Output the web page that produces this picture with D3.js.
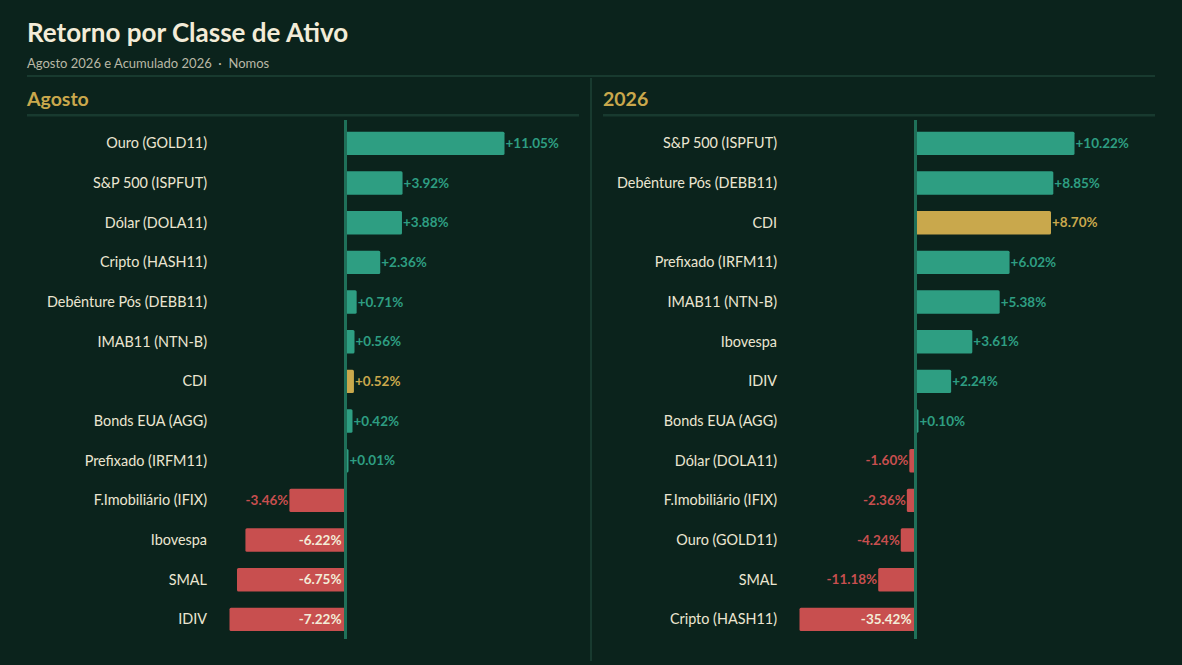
<!DOCTYPE html>
<html>
<head>
<meta charset="utf-8">
<script src="https://cdn.jsdelivr.net/npm/d3@7"></script>
<style>
  html, body { margin: 0; padding: 0; background: #0b231c; }
  svg { display: block; font-family: Lato, "Open Sans", sans-serif; }
</style>
</head>
<body>
<div id="chart"></div>
<script>
var w = 1182,
    h = 665;

// Agosto 2026
var augCategories = ["Ouro (GOLD11)", "S&P 500 (ISPFUT)", "Dólar (DOLA11)", "Cripto (HASH11)",
  "Debênture Pós (DEBB11)", "IMAB11 (NTN-B)", "CDI", "Bonds EUA (AGG)", "Prefixado (IRFM11)",
  "F.Imobiliário (IFIX)", "Ibovespa", "SMAL", "IDIV"];
var augValues = [11.05, 3.92, 3.88, 2.36, 0.71, 0.56, 0.52, 0.42, 0.01, -3.46, -6.22, -6.75, -7.22];

// Acumulado 2026
var ytdCategories = ["S&P 500 (ISPFUT)", "Debênture Pós (DEBB11)", "CDI", "Prefixado (IRFM11)",
  "IMAB11 (NTN-B)", "Ibovespa", "IDIV", "Bonds EUA (AGG)", "Dólar (DOLA11)",
  "F.Imobiliário (IFIX)", "Ouro (GOLD11)", "SMAL", "Cripto (HASH11)"];
var ytdValues = [10.22, 8.85, 8.70, 6.02, 5.38, 3.61, 2.24, 0.10, -1.60, -2.36, -4.24, -11.18, -35.42];

var benchmark = "CDI";

var colors = {
  bg: "#0b231c",
  rule: "#183a2f",
  zero: "#1f7059",
  pos: "#2e9e82",
  neg: "#c84f4f",
  bench: "#c9a84c",
  text: "#ece6d2",
  sub: "#b9b8a6",
  head: "#c9a84c",
  inside: "#f3ecd8"
};

var svg = d3.select("#chart").append("svg")
    .attr("width", w)
    .attr("height", h);

svg.append("rect").attr("width", w).attr("height", h).style("fill", colors.bg);

svg.append("text")
    .attr("x", 27).attr("y", 42)
    .style("font-size", "26px").style("font-weight", 700)
    .style("fill", "#f3ecd8")
    .text("Retorno por Classe de Ativo");

svg.append("text")
    .attr("x", 27).attr("y", 68)
    .style("font-size", "13px")
    .style("white-space", "pre")
    .style("fill", colors.sub)
    .text("Agosto 2026 e Acumulado 2026  ·  Nomos");

// top rule + divider
svg.append("rect").attr("x", 27).attr("y", 75).attr("width", 1128).attr("height", 2).style("fill", colors.rule);
svg.append("rect").attr("x", 590).attr("y", 78).attr("width", 2).attr("height", 583).style("fill", colors.rule);

function drawPanel(x0, headX, title, categories, values) {
  var g = svg.append("g").attr("transform", "translate(" + x0 + ",0)");

  g.append("text")
      .attr("x", headX).attr("y", 106)
      .style("font-size", "19.5px").style("font-weight", 700)
      .style("fill", colors.head)
      .text(title);

  g.append("rect").attr("x", headX).attr("y", 114).attr("width", 552).attr("height", 2.5).style("fill", colors.rule);

  var data = categories.map(function(c, i) { return {name: c, value: values[i]}; });

  var zeroX = 318.5,
      labelX = 180;

  var y = d3.scaleBand()
      .domain(categories)
      .range([123.5, 639.2])
      .paddingInner(0.41)
      .paddingOuter(0.205);

  // positive and negative sides are scaled on their own
  var xPos = d3.scaleLinear().domain([0, d3.max(values)]).range([0, 158]);
  var xNeg = d3.scaleLinear().domain([0, -d3.min(values)]).range([0, 115]);

  function barW(d) {
    var v = d.value >= 0 ? xPos(d.value) : xNeg(-d.value);
    return Math.max(3, v + 1);
  }
  function barColor(d) {
    if (d.name === benchmark) return colors.bench;
    return d.value >= 0 ? colors.pos : colors.neg;
  }
  function fmt(v) {
    return (v >= 0 ? "+" : "") + v.toFixed(2) + "%";
  }

  var rows = g.selectAll("g.row").data(data).enter().append("g").attr("class", "row");

  rows.append("text")
      .attr("x", labelX)
      .attr("y", function(d) { return y(d.name) + y.bandwidth() / 2; })
      .attr("dy", "0.35em")
      .attr("text-anchor", "end")
      .style("font-size", "14.4px")
      .style("fill", colors.text)
      .text(function(d) { return d.name; });

  rows.append("rect")
      .attr("x", function(d) { return d.value >= 0 ? zeroX : zeroX - barW(d); })
      .attr("y", function(d) { return y(d.name); })
      .attr("width", barW)
      .attr("height", y.bandwidth())
      .attr("rx", 1.5)
      .style("fill", barColor);

  rows.append("text")
      .attr("x", function(d) {
        if (d.value >= 0) return zeroX + barW(d) + 1;
        if (barW(d) > 70) return zeroX - 4;
        return zeroX - barW(d) - 1;
      })
      .attr("y", function(d) { return y(d.name) + y.bandwidth() / 2; })
      .attr("dy", "0.35em")
      .attr("text-anchor", function(d) { return d.value >= 0 ? "start" : "end"; })
      .style("font-size", "13.5px").style("font-weight", 700)
      .style("fill", function(d) {
        if (d.value < 0 && barW(d) > 70) return colors.inside;
        return barColor(d);
      })
      .text(function(d) { return fmt(d.value); });

  g.append("rect")
      .attr("x", zeroX - 1.5).attr("y", 120)
      .attr("width", 3).attr("height", 519)
      .style("fill", colors.zero);
}

drawPanel(27, 0, "Agosto", augCategories, augValues);
drawPanel(597, 6, "2026", ytdCategories, ytdValues);
</script>
</body>
</html>
